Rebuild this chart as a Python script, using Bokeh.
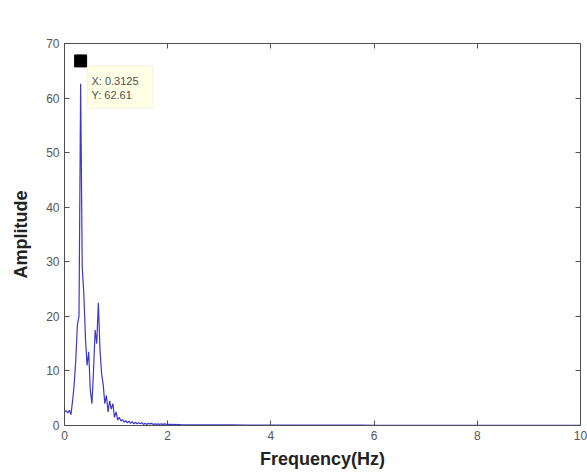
from bokeh.plotting import figure
from bokeh.models import LinearAxis, Range1d, FixedTicker, BoxAnnotation, Label
from bokeh.embed import file_html
from bokeh.resources import INLINE

# ---- data ----
freq = [0.0, 0.03125, 0.0625, 0.09375, 0.125, 0.15625, 0.1875, 0.21875,
        0.25, 0.28125, 0.3125, 0.34375, 0.375, 0.40625, 0.4375, 0.46875,
        0.5, 0.53125, 0.5625, 0.59375, 0.625, 0.65625, 0.6875, 0.71875,
        0.75, 0.78125, 0.8125, 0.84375, 0.875, 0.90625, 0.9375, 0.96875,
        1.0, 1.03125, 1.0625, 1.09375, 1.125, 1.15625, 1.1875, 1.21875,
        1.25, 1.28125, 1.3125, 1.34375, 1.375, 1.40625, 1.4375, 1.46875,
        1.5, 1.53125, 1.5625, 1.59375, 1.625, 1.65625, 1.6875, 1.71875,
        1.75, 1.78125, 1.8125, 1.84375, 1.875, 1.90625, 1.9375, 1.96875,
        2.0, 2.25, 2.5, 2.75, 3.0, 3.25, 3.5, 3.75, 4.0, 4.25, 4.5, 4.75,
        5.0, 5.25, 5.5, 5.75, 6.0, 6.25, 6.5, 6.75, 7.0, 7.25, 7.5, 7.75,
        8.0, 8.25, 8.5, 8.75, 9.0, 9.25, 9.5, 9.75, 10.0]
amplitude = [2.5, 2.7, 2.3, 2.8, 2.0, 4.5, 7.5, 12.0,
             18.5, 20.0, 62.61, 29.0, 24.0, 16.0, 11.0, 13.5,
             6.5, 4.0, 10.0, 17.5, 15.0, 22.5, 14.0, 9.5,
             7.5, 4.0, 5.5, 2.5, 4.5, 3.0, 4.0, 1.5,
             2.5, 1.0, 1.5, 0.8, 1.1, 0.6, 0.9, 0.5,
             0.8, 0.4, 0.7, 0.3, 0.6, 0.3, 0.5, 0.3,
             0.5, 0.2, 0.4, 0.2, 0.4, 0.3, 0.4, 0.2,
             0.3, 0.2, 0.3, 0.2, 0.3, 0.2, 0.3, 0.2,
             0.2, 0.15, 0.12, 0.1, 0.1, 0.1, 0.08, 0.08, 0.08, 0.07, 0.07, 0.07,
             0.06, 0.06, 0.06, 0.06, 0.05, 0.05, 0.05, 0.05, 0.05, 0.05, 0.05, 0.05,
             0.05, 0.05, 0.05, 0.05, 0.05, 0.05, 0.05, 0.05, 0.05]
tip_x = 0.3125
tip_y = 62.61
x_ticks = [0, 2, 4, 6, 8, 10]
y_ticks = [0, 10, 20, 30, 40, 50, 60, 70]

FONT = "Liberation Sans"
AXIS_COLOR = "#505050"

p = figure(width=587, height=475, output_backend="svg", toolbar_location=None,
           x_range=Range1d(0, 10), y_range=Range1d(0, 70),
           min_border_left=64, min_border_right=7, min_border_top=43,
           min_border_bottom=50, x_axis_label="Frequency(Hz)",
           y_axis_label="Amplitude")
p.grid.visible = False
p.outline_line_color = None
p.background_fill_color = "white"
p.border_fill_color = "white"

p.line(freq, amplitude, line_color="#3a3ac8", line_width=1.2)

# data tip (marker drawn just above the peak, as in the reference)
p.scatter([tip_x], [tip_y + 4.2], marker="square", size=12, fill_color="black",
          line_color="black")
p.add_layout(BoxAnnotation(left=tip_x + 0.13, right=tip_x + 1.4,
                           bottom=tip_y - 4.5, top=tip_y + 3.3,
                           fill_color="#ffffe6", fill_alpha=1.0,
                           line_color="#d8d8c0", line_width=1))
p.add_layout(Label(x=tip_x + 0.21, y=tip_y + 0.6, text=f"X: {tip_x:.4f}",
                   text_font=FONT, text_font_size="11px", text_color="#505050",
                   text_baseline="middle"))
p.add_layout(Label(x=tip_x + 0.21, y=tip_y - 2.1, text=f"Y: {tip_y:.2f}",
                   text_font=FONT, text_font_size="11px", text_color="#505050",
                   text_baseline="middle"))

def style(ax, labels=True):
    ax.axis_line_color = AXIS_COLOR
    ax.major_tick_line_color = AXIS_COLOR
    ax.major_tick_in = 5
    ax.major_tick_out = 0
    ax.minor_tick_line_color = None
    ax.major_label_text_font = FONT
    ax.major_label_text_font_size = "12px"
    ax.major_label_text_color = "#555555"
    ax.major_label_standoff = 5
    if not labels:
        ax.major_label_text_font_size = "1px"
        ax.major_label_text_color = None
        ax.major_label_standoff = 0

p.xaxis.ticker = FixedTicker(ticks=x_ticks)
p.yaxis.ticker = FixedTicker(ticks=y_ticks)
for ax in p.xaxis + p.yaxis:
    style(ax)
    ax.axis_label_text_font = FONT
    ax.axis_label_text_font_style = "bold"
    ax.axis_label_text_font_size = "18px"
    ax.axis_label_text_color = "#222222"
p.xaxis.axis_label_standoff = 6
p.yaxis.axis_label_standoff = 12

top = LinearAxis(ticker=FixedTicker(ticks=x_ticks))
right = LinearAxis(ticker=FixedTicker(ticks=y_ticks))
style(top, labels=False)
style(right, labels=False)
p.add_layout(top, "above")
p.add_layout(right, "right")

open("out.html", "w").write(file_html(p, INLINE))
